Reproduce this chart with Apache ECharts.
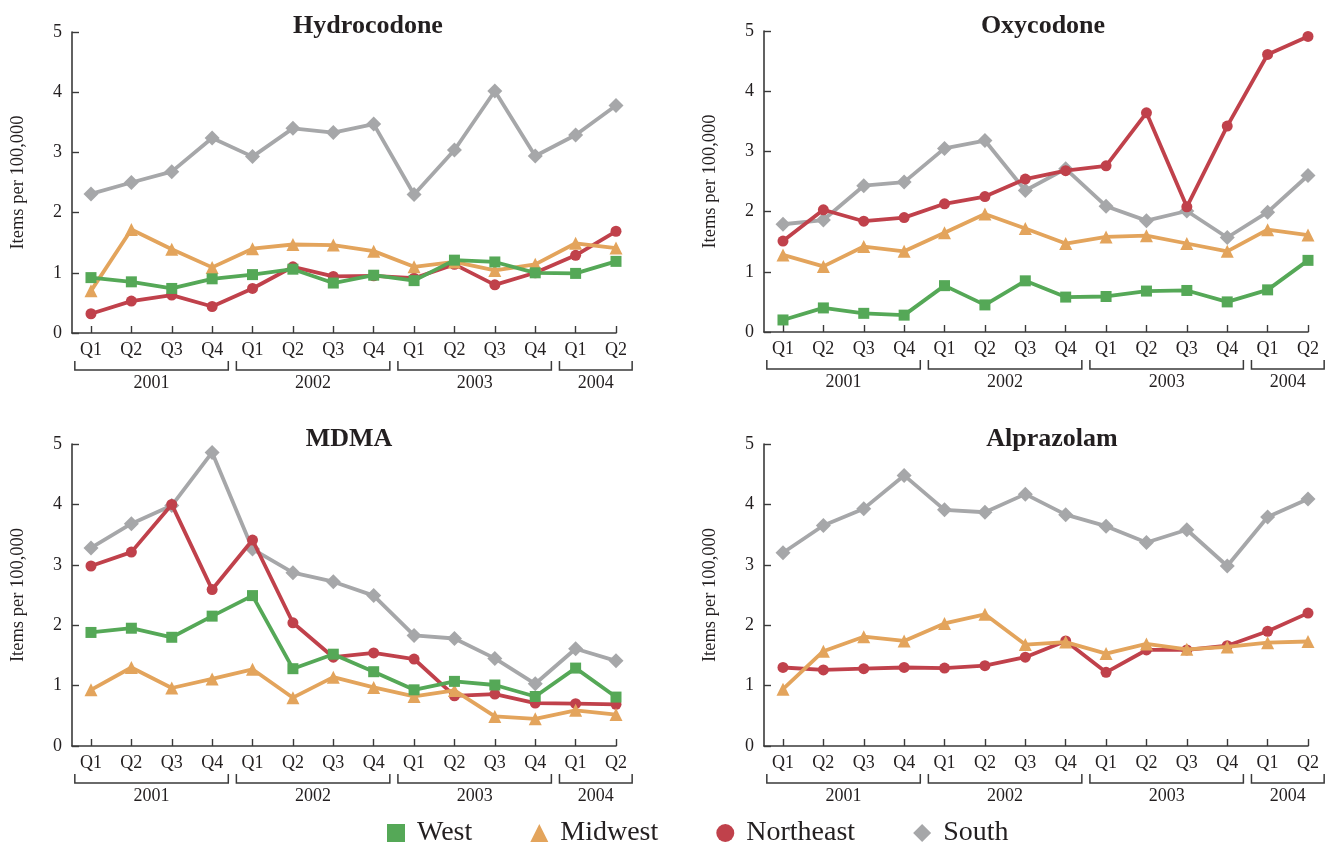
<!DOCTYPE html>
<html>
<head>
<meta charset="utf-8">
<script src="https://cdn.jsdelivr.net/npm/echarts@6/dist/echarts.min.js"></script>
<style>
  html, body { margin: 0; padding: 0; background: #fff; }
  #chart { width: 1328px; height: 842px; }
</style>
</head>
<body>
<div id="chart"></div>
<script>
// Quarter labels along each x axis, and the year groups they belong to
const quarters = ['Q1','Q2','Q3','Q4','Q1','Q2','Q3','Q4','Q1','Q2','Q3','Q4','Q1','Q2'];
const years = ['2001', '2002', '2003', '2004'];
const yearFirstIdx = [0, 4, 8, 12];
const yearLastIdx = [3, 7, 11, 13];
const yTicks = [0, 1, 2, 3, 4, 5];

const drugs = ['Hydrocodone', 'Oxycodone', 'MDMA', 'Alprazolam'];
const regions = ['West', 'Midwest', 'Northeast', 'South'];

// Items per 100,000, by quarter (2001 Q1 .. 2004 Q2)
const hydrocodoneWest      = [0.92, 0.85, 0.74, 0.90, 0.97, 1.06, 0.83, 0.96, 0.87, 1.21, 1.18, 1.00, 0.99, 1.19];
const hydrocodoneMidwest   = [0.70, 1.72, 1.39, 1.09, 1.40, 1.47, 1.46, 1.36, 1.10, 1.18, 1.04, 1.14, 1.49, 1.41];
const hydrocodoneNortheast = [0.32, 0.53, 0.63, 0.44, 0.74, 1.10, 0.94, 0.95, 0.91, 1.14, 0.80, 1.00, 1.29, 1.69];
const hydrocodoneSouth     = [2.31, 2.50, 2.68, 3.24, 2.93, 3.40, 3.33, 3.47, 2.30, 3.04, 4.02, 2.94, 3.29, 3.78];

const oxycodoneWest      = [0.20, 0.40, 0.31, 0.28, 0.77, 0.45, 0.85, 0.58, 0.59, 0.68, 0.69, 0.50, 0.70, 1.19];
const oxycodoneMidwest   = [1.28, 1.09, 1.42, 1.34, 1.65, 1.96, 1.72, 1.47, 1.58, 1.60, 1.47, 1.34, 1.70, 1.61];
const oxycodoneNortheast = [1.51, 2.03, 1.84, 1.90, 2.13, 2.25, 2.54, 2.68, 2.76, 3.64, 2.08, 3.42, 4.61, 4.91];
const oxycodoneSouth     = [1.79, 1.86, 2.43, 2.49, 3.05, 3.18, 2.35, 2.71, 2.09, 1.85, 2.01, 1.57, 1.99, 2.60];

const mdmaWest      = [1.88, 1.95, 1.80, 2.15, 2.49, 1.28, 1.52, 1.23, 0.93, 1.07, 1.01, 0.82, 1.29, 0.81];
const mdmaMidwest   = [0.93, 1.30, 0.96, 1.11, 1.27, 0.80, 1.14, 0.97, 0.82, 0.92, 0.49, 0.45, 0.59, 0.52];
const mdmaNortheast = [2.98, 3.21, 4.00, 2.59, 3.41, 2.04, 1.47, 1.54, 1.44, 0.83, 0.86, 0.71, 0.70, 0.69];
const mdmaSouth     = [3.28, 3.68, 3.98, 4.86, 3.26, 2.87, 2.72, 2.49, 1.83, 1.78, 1.45, 1.03, 1.61, 1.41];

const alprazolamMidwest   = [0.94, 1.57, 1.81, 1.74, 2.03, 2.18, 1.68, 1.72, 1.53, 1.69, 1.60, 1.64, 1.71, 1.73];
const alprazolamNortheast = [1.30, 1.26, 1.28, 1.30, 1.29, 1.33, 1.47, 1.74, 1.22, 1.59, 1.59, 1.66, 1.90, 2.20];
const alprazolamSouth     = [3.20, 3.65, 3.93, 4.48, 3.91, 3.87, 4.17, 3.83, 3.64, 3.37, 3.58, 2.98, 3.79, 4.09];

const panelData = [
  { West: hydrocodoneWest, Midwest: hydrocodoneMidwest, Northeast: hydrocodoneNortheast, South: hydrocodoneSouth },
  { West: oxycodoneWest, Midwest: oxycodoneMidwest, Northeast: oxycodoneNortheast, South: oxycodoneSouth },
  { West: mdmaWest, Midwest: mdmaMidwest, Northeast: mdmaNortheast, South: mdmaSouth },
  { Midwest: alprazolamMidwest, Northeast: alprazolamNortheast, South: alprazolamSouth }
];

const FONT = '"Liberation Serif", "DejaVu Serif", serif';
const INK = '#231f20';
const AXIS = '#3a3a3a';

const styles = {
  West:      { color: '#55a857', symbol: 'rect',     size: 11, z: 5 },
  Midwest:   { color: '#e3a45c', symbol: 'triangle', size: 13, z: 4 },
  Northeast: { color: '#c0414b', symbol: 'circle',   size: 11, z: 3 },
  South:     { color: '#a6a7a9', symbol: 'diamond',  size: 15, z: 2 }
};

// Panel frames: plot boxes and title anchors
const grids = [
  { left: 72,  top: 32,  width: 544, height: 301 },
  { left: 764, top: 31,  width: 544, height: 301 },
  { left: 72,  top: 444, width: 544, height: 302 },
  { left: 764, top: 444, width: 544, height: 302 }
];
const titlePos = [
  { x: 363, y: 8 }, { x: 1038, y: 8 }, { x: 344, y: 421 }, { x: 1047, y: 421 }
];

const qIndex = quarters.map((q, i) => i);

const option = {
  animation: false,
  backgroundColor: '#ffffff',
  textStyle: { fontFamily: FONT, color: INK },
  title: drugs.map((d, i) => ({
    text: d,
    left: titlePos[i].x,
    top: titlePos[i].y,
    textAlign: 'center',
    textStyle: { fontFamily: FONT, fontSize: 26, fontWeight: 'bold', color: INK }
  })),
  grid: grids.map(g => Object.assign({ containLabel: false }, g)),
  xAxis: grids.map((g, i) => ({
    type: 'value',
    gridIndex: i,
    min: -0.47,
    max: 13,
    axisLine: { show: true, onZero: false, lineStyle: { color: AXIS, width: 1.6 } },
    axisTick: { show: true, inside: true, length: 7, customValues: qIndex, lineStyle: { color: AXIS, width: 1.4 } },
    axisLabel: {
      show: true,
      customValues: qIndex,
      margin: 8,
      fontFamily: FONT,
      fontSize: 18,
      color: INK,
      formatter: v => quarters[Math.round(v)]
    },
    splitLine: { show: false }
  })),
  yAxis: grids.map((g, i) => ({
    type: 'value',
    gridIndex: i,
    min: 0,
    max: 5,
    interval: 1,
    name: 'Items per 100,000',
    nameLocation: 'middle',
    nameRotate: 90,
    nameGap: 44,
    nameTextStyle: { fontFamily: FONT, fontSize: 18.5, color: INK },
    axisLine: { show: true, onZero: false, lineStyle: { color: AXIS, width: 1.6 } },
    axisTick: { show: true, inside: true, length: 7, lineStyle: { color: AXIS, width: 1.4 } },
    axisLabel: { margin: 10, fontFamily: FONT, fontSize: 18, color: INK,
                 formatter: v => yTicks.indexOf(v) >= 0 ? String(v) : '' },
    splitLine: { show: false }
  })),
  legend: {
    left: 382,
    top: 814,
    itemGap: 58,
    itemWidth: 18,
    itemHeight: 18,
    textStyle: { fontFamily: FONT, fontSize: 28, color: INK, padding: [0, 0, 0, 7] },
    data: regions.map(r => ({ name: r, icon: styles[r].symbol, itemStyle: { color: styles[r].color } }))
  },
  series: []
};

panelData.forEach((pd, i) => {
  regions.forEach(r => {
    if (!pd[r]) return;
    const st = styles[r];
    option.series.push({
      name: r,
      type: 'line',
      xAxisIndex: i,
      yAxisIndex: i,
      z: st.z,
      data: pd[r].map((v, k) => [k, v]),
      symbol: st.symbol,
      symbolSize: st.size,
      showAllSymbol: true,
      lineStyle: { color: st.color, width: 3.8 },
      itemStyle: { color: st.color },
      emphasis: { disabled: true }
    });
  });
});

const chart = echarts.init(document.getElementById('chart'), null, { renderer: 'canvas' });
chart.setOption(option);

// Year brackets under the quarter labels, placed through each panel's axis scale
const graphics = [];
grids.forEach((g, i) => {
  const y0 = chart.convertToPixel({ yAxisIndex: i }, 0);
  const yLine = y0 + 37;
  const yHook = yLine - 9;
  years.forEach((yr, k) => {
    const xa = chart.convertToPixel({ xAxisIndex: i }, yearFirstIdx[k] - 0.4);
    const xb = chart.convertToPixel({ xAxisIndex: i }, yearLastIdx[k] + 0.4);
    graphics.push({
      type: 'polyline',
      silent: true,
      shape: { points: [[xa, yHook], [xa, yLine], [xb, yLine], [xb, yHook]] },
      style: { stroke: AXIS, lineWidth: 1.5, fill: null }
    });
    graphics.push({
      type: 'text',
      silent: true,
      x: (xa + xb) / 2,
      y: yLine + 13,
      style: { text: yr, font: '18px ' + FONT, fill: INK, align: 'center', verticalAlign: 'middle' }
    });
  });
});
chart.setOption({ graphic: graphics });
</script>
</body>
</html>
